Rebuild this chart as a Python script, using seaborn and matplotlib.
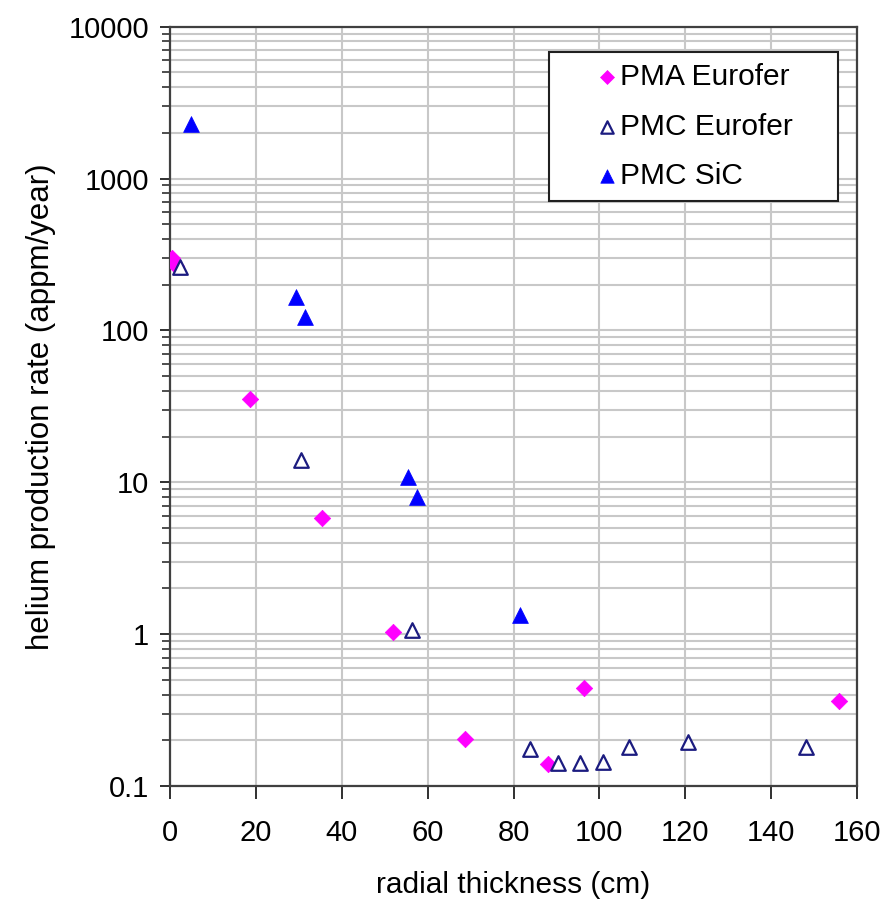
import numpy as np
import pandas as pd
import matplotlib
matplotlib.use("Agg")
import matplotlib.pyplot as plt
from matplotlib.ticker import FixedLocator, LogLocator, FuncFormatter, NullFormatter
import seaborn as sns

# values
pma_x = [0.5, 1.5, 18.6, 35.3, 52.0, 68.7, 88.0, 96.4, 155.8]
pma_y = [300, 265, 35.5, 5.8, 1.04, 0.203, 0.139, 0.445, 0.36]

pmc_eu_x = [2.4, 30.5, 56.4, 83.8, 90.3, 95.5, 100.8, 106.8, 120.7, 148.2]
pmc_eu_y = [262, 14.0, 1.06, 0.175, 0.142, 0.142, 0.143, 0.181, 0.195, 0.181]

pmc_sic_x = [4.9, 29.4, 31.4, 55.5, 57.5, 81.4]
pmc_sic_y = [2280, 165, 122, 10.8, 8.0, 1.34]

series_names = ["PMA Eurofer", "PMC Eurofer", "PMC SiC"]
x_ticks = [0, 20, 40, 60, 80, 100, 120, 140, 160]
y_ticks = [0.1, 1, 10, 100, 1000, 10000]

sns.set_style("white")
plt.rcParams["font.family"] = ["Liberation Sans", "DejaVu Sans"]
plt.rcParams["text.color"] = "black"
plt.rcParams["axes.labelcolor"] = "black"
plt.rcParams["xtick.color"] = "black"
plt.rcParams["ytick.color"] = "black"

fig = plt.figure(figsize=(8.93, 9.0), dpi=100)
ax = fig.add_axes([0.1904, 0.1267, 0.7693, 0.8437])

grid_c = "#c8c8c8"
ax.set_yscale("log")
ax.set_xlim(0, 160)
ax.set_ylim(0.1, 10000)

pma = pd.DataFrame({"x": pma_x, "y": pma_y})
pmc_eu = pd.DataFrame({"x": pmc_eu_x, "y": pmc_eu_y})
pmc_sic = pd.DataFrame({"x": pmc_sic_x, "y": pmc_sic_y})

sns.scatterplot(data=pma, x="x", y="y", ax=ax, marker="D", s=70,
                color="#ff00ff", edgecolor="#ff00ff", linewidth=0.5,
                label=series_names[0], zorder=3)
sns.scatterplot(data=pmc_eu, x="x", y="y", ax=ax, marker="^", s=110,
                facecolor="white", edgecolor="#1c1c80", linewidth=1.6,
                label=series_names[1], zorder=3)
sns.scatterplot(data=pmc_sic, x="x", y="y", ax=ax, marker="^", s=130,
                color="#0000ff", edgecolor="#0000ff", linewidth=0.5,
                label=series_names[2], zorder=3)

# grid
ax.xaxis.set_major_locator(FixedLocator(x_ticks))
ax.yaxis.set_major_locator(FixedLocator(y_ticks))
ax.yaxis.set_minor_locator(LogLocator(base=10, subs=np.arange(2, 10)))
ax.yaxis.set_minor_formatter(NullFormatter())
ax.yaxis.set_major_formatter(FuncFormatter(lambda v, p: "%g" % v))
ax.grid(True, which="major", axis="both", color=grid_c, linewidth=1.5)
ax.grid(True, which="minor", axis="y", color=grid_c, linewidth=1.5)
ax.set_axisbelow(True)

for s in ax.spines.values():
    s.set_color("#404040")
    s.set_linewidth(1.6)
    s.set_visible(True)

ax.tick_params(axis="x", which="major", direction="out", length=9, width=1.4,
               color="#303030", labelsize=21, pad=15, bottom=True)
ax.tick_params(axis="y", which="major", direction="out", length=7, width=1.4,
               color="#303030", labelsize=21, pad=8, left=True)
ax.tick_params(axis="y", which="minor", direction="out", length=6, width=1.2,
               color="#303030", left=True)

ax.set_xlabel("radial thickness (cm)", fontsize=21.5, labelpad=17)
ax.set_ylabel("helium production rate (appm/year)", fontsize=22.5, labelpad=9)

leg = ax.legend(loc="upper left", bbox_to_anchor=(0.5517, 0.7747, 0.4207, 0.1923),
                mode="expand", fontsize=21.5,
                frameon=True, fancybox=False, framealpha=1, edgecolor="#202020",
                markerscale=0.85, handlelength=3.1, handletextpad=-1.1,
                labelspacing=0.72, borderpad=0.38, borderaxespad=0)
leg.get_frame().set_linewidth(1.5)

fig.savefig("out.png", dpi=100, facecolor="white")
